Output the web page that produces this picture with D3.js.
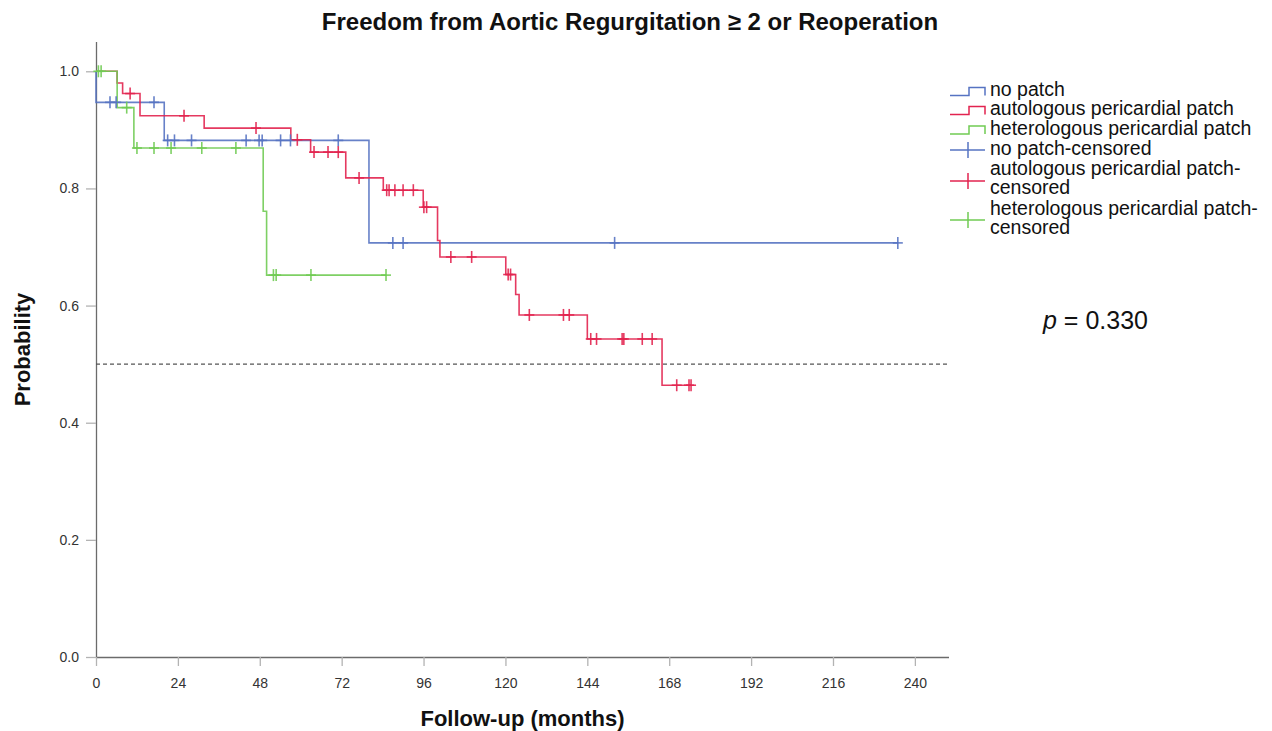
<!DOCTYPE html>
<html>
<head>
<meta charset="utf-8">
<script src="https://cdn.jsdelivr.net/npm/d3@7/dist/d3.min.js"></script>
<style>
  html, body { margin: 0; padding: 0; background: #fff; }
  svg { display: block; font-family: "Liberation Sans", Arial, Helvetica, sans-serif; }
</style>
</head>
<body>
<svg id="chart" width="1272" height="731"></svg>
<script>
// Kaplan–Meier estimates per group: event times (months) and the survival level after each step
const groupNames = ["no patch", "autologous pericardial patch", "heterologous pericardial patch"];
const groupColors = ["#5673c2", "#e2234f", "#70cb53"];

const noPatchEventTimes = [0, 20, 80];
const noPatchSurvival = [0.947, 0.882, 0.707];
const noPatchCensored = [4.1, 5.9, 17, 21, 23, 28, 44, 47.8, 48.7, 54.1, 57, 71, 87, 90, 152, 235];

const autologousEventTimes = [6.2, 7.8, 12.9, 31.7, 57.1, 62.9, 73.2, 84.2, 95.9, 100.1, 100.8, 120.1, 123, 124, 144, 165.9];
const autologousSurvival = [0.980, 0.962, 0.924, 0.903, 0.883, 0.862, 0.818, 0.797, 0.768, 0.711, 0.683, 0.653, 0.619, 0.584, 0.543, 0.464];
const autologousCensored = [10, 25.8, 46.9, 59, 63.9, 68, 71, 77.1, 85.2, 85.9, 87.6, 90, 93, 96.1, 96.9, 104, 110.1, 120.8, 121.5, 127, 137, 138.7, 145, 146.7, 154.2, 154.7, 160.1, 163, 170.2, 173.8, 174.4];

const heterologousEventTimes = [6.2, 11.1, 49, 50];
const heterologousSurvival = [0.938, 0.869, 0.761, 0.652];
const heterologousCensored = [0.7, 1.5, 9, 12, 17, 22, 31, 41, 52, 52.8, 63, 85];

const monthTicks = [0, 24, 48, 72, 96, 120, 144, 168, 192, 216, 240];
const probabilityTicks = [0.0, 0.2, 0.4, 0.6, 0.8, 1.0];
const medianLine = 0.5;
const pValueText = "0.330";

const groups = [
  { name: groupNames[0], color: groupColors[0], times: noPatchEventTimes, surv: noPatchSurvival, cens: noPatchCensored },
  { name: groupNames[1], color: groupColors[1], times: autologousEventTimes, surv: autologousSurvival, cens: autologousCensored },
  { name: groupNames[2], color: groupColors[2], times: heterologousEventTimes, surv: heterologousSurvival, cens: heterologousCensored }
];

const svg = d3.select("#chart");
const margin = { left: 96, right: 323, top: 42, bottom: 74 };
const W = 1272, H = 731;

const x = d3.scaleLinear().domain([0, 250]).range([margin.left, W - margin.right]);
const y = d3.scaleLinear().domain([0, 1.05]).range([H - margin.bottom, margin.top]);

// survival level at time t (right-continuous step function)
function survAt(g, t) {
  let s = 1;
  g.times.forEach((et, i) => { if (et <= t) s = g.surv[i]; });
  return s;
}

// step path vertices for one group, running to its last follow-up time
function stepPoints(g) {
  const pts = [[0, 1]];
  let s = 1;
  g.times.forEach((et, i) => {
    pts.push([et, s]);
    s = g.surv[i];
    pts.push([et, s]);
  });
  const end = Math.max(d3.max(g.cens), d3.max(g.times));
  pts.push([end, s]);
  return pts;
}

// axes
const xAxis = d3.axisBottom(x).tickValues(monthTicks).tickSize(9).tickPadding(12).tickFormat(d3.format("d"));
const yAxis = d3.axisLeft(y).tickValues(probabilityTicks).tickSize(10).tickPadding(7).tickFormat(d3.format(".1f"));

const gx = svg.append("g").attr("transform", `translate(0,${y(0)})`).call(xAxis);
const gy = svg.append("g").attr("transform", `translate(${x(0)},0)`).call(yAxis);

[gx, gy].forEach(g => {
  g.select(".domain").attr("stroke", "#6b6b6b").attr("stroke-width", 1.3);
  g.selectAll(".tick line").attr("stroke", "#b3b3b3").attr("stroke-width", 1.3);
  g.selectAll(".tick text").attr("fill", "#333").style("font-size", "14px")
    .style("font-family", "'Liberation Sans', Arial, sans-serif");
});
gx.select(".domain").attr("d", `M${x(0)},0.5H${x(250)}`);
gy.select(".domain").attr("d", `M0.5,${y(0)}V${y(1.05)}`);

// reference line at 0.5
svg.append("line")
  .attr("x1", x(0)).attr("x2", x(250))
  .attr("y1", y(medianLine)).attr("y2", y(medianLine))
  .attr("stroke", "#555").attr("stroke-width", 1.2)
  .attr("stroke-dasharray", "4,3");

// survival curves
const line = d3.line().x(d => x(d[0])).y(d => y(d[1]));
groups.forEach(g => {
  svg.append("path")
    .datum(stepPoints(g))
    .attr("d", line)
    .attr("fill", "none")
    .attr("stroke", g.color)
    .attr("stroke-width", 1.6)
    .attr("stroke-opacity", 0.9);
});

// censoring marks
groups.forEach(g => {
  const gg = svg.append("g").attr("stroke", g.color).attr("stroke-width", 1.6).attr("stroke-opacity", 0.9);
  g.cens.forEach(t => {
    const cx = x(t), cy = y(survAt(g, t));
    gg.append("line").attr("x1", cx).attr("x2", cx).attr("y1", cy - 6).attr("y2", cy + 6);
    gg.append("line").attr("x1", cx - 5).attr("x2", cx + 5).attr("y1", cy).attr("y2", cy);
  });
});

// title and axis titles
svg.append("text")
  .attr("x", 630).attr("y", 30)
  .attr("text-anchor", "middle")
  .style("font-weight", "bold").style("font-size", "24px").attr("fill", "#111")
  .text("Freedom from Aortic Regurgitation \u2265 2 or Reoperation");

svg.append("text")
  .attr("x", (x(0) + x(250)) / 2).attr("y", 726)
  .attr("text-anchor", "middle")
  .style("font-weight", "bold").style("font-size", "22px").attr("fill", "#111")
  .text("Follow-up (months)");

svg.append("text")
  .attr("transform", `translate(30,${(y(0) + y(1.05)) / 2}) rotate(-90)`)
  .attr("text-anchor", "middle")
  .style("font-weight", "bold").style("font-size", "22px").attr("fill", "#111")
  .text("Probability");

// legend
const legend = svg.append("g").attr("transform", "translate(950,0)");
const legendRows = [
  { type: "step", color: groupColors[0], lines: [groupNames[0]], y: 89.5 },
  { type: "step", color: groupColors[1], lines: [groupNames[1]], y: 108.5 },
  { type: "step", color: groupColors[2], lines: [groupNames[2]], y: 128 },
  { type: "cens", color: groupColors[0], lines: [groupNames[0] + "-censored"], y: 148, my: 150 },
  { type: "cens", color: groupColors[1], lines: [groupNames[1] + "-", "censored"], y: 168, my: 181 },
  { type: "cens", color: groupColors[2], lines: [groupNames[2] + "-", "censored"], y: 208, my: 220 }
];
legendRows.forEach(r => {
  if (r.type === "step") {
    legend.append("path")
      .attr("d", `M0,${r.y + 6}H19V${r.y - 2}H35V${r.y + 6}`)
      .attr("fill", "none").attr("stroke", r.color).attr("stroke-width", 1.5);
  } else {
    legend.append("line").attr("x1", 0).attr("x2", 35).attr("y1", r.my).attr("y2", r.my)
      .attr("stroke", r.color).attr("stroke-width", 1.5);
    legend.append("line").attr("x1", 18).attr("x2", 18).attr("y1", r.my - 8).attr("y2", r.my + 8)
      .attr("stroke", r.color).attr("stroke-width", 1.5);
  }
  r.lines.forEach((t, i) => {
    legend.append("text")
      .attr("x", 40).attr("y", r.y + i * 19.5)
      .attr("dy", "0.35em")
      .style("font-size", "19.5px").attr("fill", "#111")
      .text(t);
  });
});

// p-value annotation
const pv = svg.append("text")
  .attr("x", 1043).attr("y", 329)
  .style("font-size", "25px").attr("fill", "#111")
  .style("font-family", "'Liberation Sans', Arial, sans-serif");
pv.append("tspan").style("font-style", "italic").text("p");
pv.append("tspan").text(" = " + pValueText);
</script>
</body>
</html>
